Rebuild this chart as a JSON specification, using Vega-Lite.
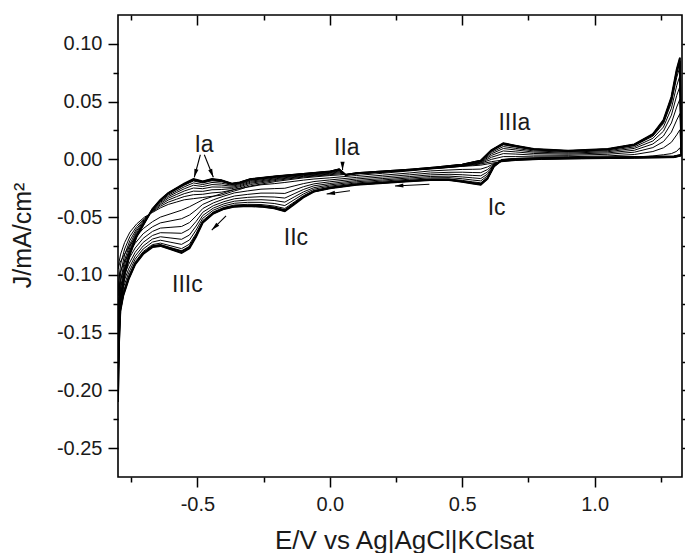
{
"$schema": "https://vega.github.io/schema/vega-lite/v6.json",
"width": 564,
"height": 462,
"autosize": {"type": "none"},
"padding": {"left": 118, "top": 15, "right": 3, "bottom": 76},
"background": "white",
"datasets": {
"cv": [
{"c":1,"o":1,"e":-0.8,"j":-0.095},{"c":1,"o":2,"e":-0.797,"j":-0.09},{"c":1,"o":3,"e":-0.79,"j":-0.082},{"c":1,"o":4,"e":-0.775,"j":-0.072},{"c":1,"o":5,"e":-0.755,"j":-0.063},{"c":1,"o":6,"e":-0.73,"j":-0.056},{"c":1,"o":7,"e":-0.7,"j":-0.05},{"c":1,"o":8,"e":-0.67,"j":-0.046},{"c":1,"o":9,"e":-0.64,"j":-0.042},{"c":1,"o":10,"e":-0.61,"j":-0.039},{"c":1,"o":11,"e":-0.58,"j":-0.037},{"c":1,"o":12,"e":-0.55,"j":-0.035},{"c":1,"o":13,"e":-0.515,"j":-0.034},{"c":1,"o":14,"e":-0.48,"j":-0.033},{"c":1,"o":15,"e":-0.445,"j":-0.032},{"c":1,"o":16,"e":-0.41,"j":-0.031},{"c":1,"o":17,"e":-0.37,"j":-0.028},{"c":1,"o":18,"e":-0.34,"j":-0.026},{"c":1,"o":19,"e":-0.3,"j":-0.023},{"c":1,"o":20,"e":-0.2,"j":-0.019},{"c":1,"o":21,"e":-0.1,"j":-0.016},{"c":1,"o":22,"e":0,"j":-0.014},{"c":1,"o":23,"e":0.035,"j":-0.0135},{"c":1,"o":24,"e":0.06,"j":-0.013},{"c":1,"o":25,"e":0.1,"j":-0.0125},{"c":1,"o":26,"e":0.2,"j":-0.011},{"c":1,"o":27,"e":0.3,"j":-0.0095},{"c":1,"o":28,"e":0.4,"j":-0.008},{"c":1,"o":29,"e":0.5,"j":-0.006},{"c":1,"o":30,"e":0.57,"j":-0.004},{"c":1,"o":31,"e":0.61,"j":-0.002},{"c":1,"o":32,"e":0.655,"j":-0.0005},{"c":1,"o":33,"e":0.7,"j":0},{"c":1,"o":34,"e":0.77,"j":0.0005},{"c":1,"o":35,"e":0.9,"j":0.001},{"c":1,"o":36,"e":1.05,"j":0.0015},{"c":1,"o":37,"e":1.15,"j":0.002},{"c":1,"o":38,"e":1.22,"j":0.003},{"c":1,"o":39,"e":1.26,"j":0.004},{"c":1,"o":40,"e":1.29,"j":0.005},{"c":1,"o":41,"e":1.31,"j":0.007},{"c":1,"o":42,"e":1.322,"j":0.01},{"c":1,"o":43,"e":1.328,"j":0.003},{"c":1,"o":44,"e":1.3,"j":0.0015},{"c":1,"o":45,"e":1.15,"j":0.001},{"c":1,"o":46,"e":0.95,"j":0.0005},{"c":1,"o":47,"e":0.8,"j":0},{"c":1,"o":48,"e":0.7,"j":-0.001},{"c":1,"o":49,"e":0.65,"j":-0.002},{"c":1,"o":50,"e":0.62,"j":-0.003},{"c":1,"o":51,"e":0.595,"j":-0.004},{"c":1,"o":52,"e":0.57,"j":-0.005},{"c":1,"o":53,"e":0.54,"j":-0.0055},{"c":1,"o":54,"e":0.5,"j":-0.006},{"c":1,"o":55,"e":0.45,"j":-0.007},{"c":1,"o":56,"e":0.38,"j":-0.008},{"c":1,"o":57,"e":0.3,"j":-0.01},{"c":1,"o":58,"e":0.2,"j":-0.012},{"c":1,"o":59,"e":0.1,"j":-0.014},{"c":1,"o":60,"e":0,"j":-0.016},{"c":1,"o":61,"e":-0.06,"j":-0.017},{"c":1,"o":62,"e":-0.1,"j":-0.018},{"c":1,"o":63,"e":-0.135,"j":-0.019},{"c":1,"o":64,"e":-0.17,"j":-0.02},{"c":1,"o":65,"e":-0.21,"j":-0.021},{"c":1,"o":66,"e":-0.26,"j":-0.022},{"c":1,"o":67,"e":-0.31,"j":-0.024},{"c":1,"o":68,"e":-0.36,"j":-0.026},{"c":1,"o":69,"e":-0.4,"j":-0.029},{"c":1,"o":70,"e":-0.44,"j":-0.032},{"c":1,"o":71,"e":-0.48,"j":-0.035},{"c":1,"o":72,"e":-0.505,"j":-0.038},{"c":1,"o":73,"e":-0.53,"j":-0.041},{"c":1,"o":74,"e":-0.56,"j":-0.044},{"c":1,"o":75,"e":-0.6,"j":-0.047},{"c":1,"o":76,"e":-0.64,"j":-0.05},{"c":1,"o":77,"e":-0.67,"j":-0.054},{"c":1,"o":78,"e":-0.705,"j":-0.06},{"c":1,"o":79,"e":-0.735,"j":-0.068},{"c":1,"o":80,"e":-0.76,"j":-0.076},{"c":1,"o":81,"e":-0.78,"j":-0.084},{"c":1,"o":82,"e":-0.794,"j":-0.09},{"c":1,"o":83,"e":-0.8,"j":-0.095},
{"c":2,"o":1,"e":-0.8,"j":-0.118},{"c":2,"o":2,"e":-0.797,"j":-0.105},{"c":2,"o":3,"e":-0.79,"j":-0.0906},{"c":2,"o":4,"e":-0.775,"j":-0.0776},{"c":2,"o":5,"e":-0.755,"j":-0.0668},{"c":2,"o":6,"e":-0.73,"j":-0.0582},{"c":2,"o":7,"e":-0.7,"j":-0.051},{"c":2,"o":8,"e":-0.67,"j":-0.0454},{"c":2,"o":9,"e":-0.64,"j":-0.0406},{"c":2,"o":10,"e":-0.61,"j":-0.037},{"c":2,"o":11,"e":-0.58,"j":-0.0346},{"c":2,"o":12,"e":-0.55,"j":-0.0322},{"c":2,"o":13,"e":-0.515,"j":-0.0306},{"c":2,"o":14,"e":-0.48,"j":-0.0302},{"c":2,"o":15,"e":-0.445,"j":-0.029},{"c":2,"o":16,"e":-0.41,"j":-0.0284},{"c":2,"o":17,"e":-0.37,"j":-0.0266},{"c":2,"o":18,"e":-0.34,"j":-0.0248},{"c":2,"o":19,"e":-0.3,"j":-0.0218},{"c":2,"o":20,"e":-0.2,"j":-0.0181},{"c":2,"o":21,"e":-0.1,"j":-0.0153},{"c":2,"o":22,"e":0,"j":-0.0133},{"c":2,"o":23,"e":0.035,"j":-0.0125},{"c":2,"o":24,"e":0.06,"j":-0.0131},{"c":2,"o":25,"e":0.1,"j":-0.0124},{"c":2,"o":26,"e":0.2,"j":-0.0109},{"c":2,"o":27,"e":0.3,"j":-0.0094},{"c":2,"o":28,"e":0.4,"j":-0.0078},{"c":2,"o":29,"e":0.5,"j":-0.0057},{"c":2,"o":30,"e":0.57,"j":-0.0034},{"c":2,"o":31,"e":0.61,"j":0},{"c":2,"o":32,"e":0.655,"j":0.0024},{"c":2,"o":33,"e":0.7,"j":0.0024},{"c":2,"o":34,"e":0.77,"j":0.0022},{"c":2,"o":35,"e":0.9,"j":0.0023},{"c":2,"o":36,"e":1.05,"j":0.003},{"c":2,"o":37,"e":1.15,"j":0.0042},{"c":2,"o":38,"e":1.22,"j":0.0068},{"c":2,"o":39,"e":1.26,"j":0.01},{"c":2,"o":40,"e":1.29,"j":0.0148},{"c":2,"o":41,"e":1.31,"j":0.0212},{"c":2,"o":42,"e":1.322,"j":0.0256},{"c":2,"o":43,"e":1.328,"j":0.0032},{"c":2,"o":44,"e":1.3,"j":0.0017},{"c":2,"o":45,"e":1.15,"j":0.0012},{"c":2,"o":46,"e":0.95,"j":0.0007},{"c":2,"o":47,"e":0.8,"j":0.0002},{"c":2,"o":48,"e":0.7,"j":-0.0007},{"c":2,"o":49,"e":0.65,"j":-0.0017},{"c":2,"o":50,"e":0.62,"j":-0.0036},{"c":2,"o":51,"e":0.595,"j":-0.0066},{"c":2,"o":52,"e":0.57,"j":-0.0084},{"c":2,"o":53,"e":0.54,"j":-0.0086},{"c":2,"o":54,"e":0.5,"j":-0.0087},{"c":2,"o":55,"e":0.45,"j":-0.0092},{"c":2,"o":56,"e":0.38,"j":-0.01},{"c":2,"o":57,"e":0.3,"j":-0.0118},{"c":2,"o":58,"e":0.2,"j":-0.0137},{"c":2,"o":59,"e":0.1,"j":-0.0156},{"c":2,"o":60,"e":0,"j":-0.0178},{"c":2,"o":61,"e":-0.06,"j":-0.0192},{"c":2,"o":62,"e":-0.1,"j":-0.021},{"c":2,"o":63,"e":-0.135,"j":-0.023},{"c":2,"o":64,"e":-0.17,"j":-0.025},{"c":2,"o":65,"e":-0.21,"j":-0.0253},{"c":2,"o":66,"e":-0.26,"j":-0.0258},{"c":2,"o":67,"e":-0.31,"j":-0.0273},{"c":2,"o":68,"e":-0.36,"j":-0.029},{"c":2,"o":69,"e":-0.4,"j":-0.0318},{"c":2,"o":70,"e":-0.44,"j":-0.035},{"c":2,"o":71,"e":-0.48,"j":-0.039},{"c":2,"o":72,"e":-0.505,"j":-0.0438},{"c":2,"o":73,"e":-0.53,"j":-0.0482},{"c":2,"o":74,"e":-0.56,"j":-0.0514},{"c":2,"o":75,"e":-0.6,"j":-0.0532},{"c":2,"o":76,"e":-0.64,"j":-0.055},{"c":2,"o":77,"e":-0.67,"j":-0.0584},{"c":2,"o":78,"e":-0.705,"j":-0.0644},{"c":2,"o":79,"e":-0.735,"j":-0.0726},{"c":2,"o":80,"e":-0.76,"j":-0.0816},{"c":2,"o":81,"e":-0.78,"j":-0.0908},{"c":2,"o":82,"e":-0.794,"j":-0.099},{"c":2,"o":83,"e":-0.8,"j":-0.118},
{"c":3,"o":1,"e":-0.8,"j":-0.1387},{"c":3,"o":2,"e":-0.797,"j":-0.1185},{"c":3,"o":3,"e":-0.79,"j":-0.0983},{"c":3,"o":4,"e":-0.775,"j":-0.0826},{"c":3,"o":5,"e":-0.755,"j":-0.0702},{"c":3,"o":6,"e":-0.73,"j":-0.0602},{"c":3,"o":7,"e":-0.7,"j":-0.0519},{"c":3,"o":8,"e":-0.67,"j":-0.0449},{"c":3,"o":9,"e":-0.64,"j":-0.0393},{"c":3,"o":10,"e":-0.61,"j":-0.0352},{"c":3,"o":11,"e":-0.58,"j":-0.0324},{"c":3,"o":12,"e":-0.55,"j":-0.0297},{"c":3,"o":13,"e":-0.515,"j":-0.0275},{"c":3,"o":14,"e":-0.48,"j":-0.0277},{"c":3,"o":15,"e":-0.445,"j":-0.0263},{"c":3,"o":16,"e":-0.41,"j":-0.0261},{"c":3,"o":17,"e":-0.37,"j":-0.0253},{"c":3,"o":18,"e":-0.34,"j":-0.0237},{"c":3,"o":19,"e":-0.3,"j":-0.0207},{"c":3,"o":20,"e":-0.2,"j":-0.0173},{"c":3,"o":21,"e":-0.1,"j":-0.0147},{"c":3,"o":22,"e":0,"j":-0.0127},{"c":3,"o":23,"e":0.035,"j":-0.0116},{"c":3,"o":24,"e":0.06,"j":-0.0132},{"c":3,"o":25,"e":0.1,"j":-0.0123},{"c":3,"o":26,"e":0.2,"j":-0.0108},{"c":3,"o":27,"e":0.3,"j":-0.0093},{"c":3,"o":28,"e":0.4,"j":-0.0076},{"c":3,"o":29,"e":0.5,"j":-0.0054},{"c":3,"o":30,"e":0.57,"j":-0.0029},{"c":3,"o":31,"e":0.61,"j":0.0018},{"c":3,"o":32,"e":0.655,"j":0.005},{"c":3,"o":33,"e":0.7,"j":0.0046},{"c":3,"o":34,"e":0.77,"j":0.0037},{"c":3,"o":35,"e":0.9,"j":0.0035},{"c":3,"o":36,"e":1.05,"j":0.0044},{"c":3,"o":37,"e":1.15,"j":0.0062},{"c":3,"o":38,"e":1.22,"j":0.0102},{"c":3,"o":39,"e":1.26,"j":0.0154},{"c":3,"o":40,"e":1.29,"j":0.0236},{"c":3,"o":41,"e":1.31,"j":0.034},{"c":3,"o":42,"e":1.322,"j":0.0396},{"c":3,"o":43,"e":1.328,"j":0.0034},{"c":3,"o":44,"e":1.3,"j":0.0019},{"c":3,"o":45,"e":1.15,"j":0.0014},{"c":3,"o":46,"e":0.95,"j":0.0009},{"c":3,"o":47,"e":0.8,"j":0.0004},{"c":3,"o":48,"e":0.7,"j":-0.0004},{"c":3,"o":49,"e":0.65,"j":-0.0014},{"c":3,"o":50,"e":0.62,"j":-0.0041},{"c":3,"o":51,"e":0.595,"j":-0.0089},{"c":3,"o":52,"e":0.57,"j":-0.0115},{"c":3,"o":53,"e":0.54,"j":-0.0114},{"c":3,"o":54,"e":0.5,"j":-0.0111},{"c":3,"o":55,"e":0.45,"j":-0.0112},{"c":3,"o":56,"e":0.38,"j":-0.0118},{"c":3,"o":57,"e":0.3,"j":-0.0134},{"c":3,"o":58,"e":0.2,"j":-0.0152},{"c":3,"o":59,"e":0.1,"j":-0.017},{"c":3,"o":60,"e":0,"j":-0.0194},{"c":3,"o":61,"e":-0.06,"j":-0.0212},{"c":3,"o":62,"e":-0.1,"j":-0.0237},{"c":3,"o":63,"e":-0.135,"j":-0.0266},{"c":3,"o":64,"e":-0.17,"j":-0.0295},{"c":3,"o":65,"e":-0.21,"j":-0.0292},{"c":3,"o":66,"e":-0.26,"j":-0.0292},{"c":3,"o":67,"e":-0.31,"j":-0.0303},{"c":3,"o":68,"e":-0.36,"j":-0.0317},{"c":3,"o":69,"e":-0.4,"j":-0.0343},{"c":3,"o":70,"e":-0.44,"j":-0.0377},{"c":3,"o":71,"e":-0.48,"j":-0.0426},{"c":3,"o":72,"e":-0.505,"j":-0.049},{"c":3,"o":73,"e":-0.53,"j":-0.0547},{"c":3,"o":74,"e":-0.56,"j":-0.0581},{"c":3,"o":75,"e":-0.6,"j":-0.0588},{"c":3,"o":76,"e":-0.64,"j":-0.0595},{"c":3,"o":77,"e":-0.67,"j":-0.0624},{"c":3,"o":78,"e":-0.705,"j":-0.0684},{"c":3,"o":79,"e":-0.735,"j":-0.0767},{"c":3,"o":80,"e":-0.76,"j":-0.0866},{"c":3,"o":81,"e":-0.78,"j":-0.0969},{"c":3,"o":82,"e":-0.794,"j":-0.1071},{"c":3,"o":83,"e":-0.8,"j":-0.1387},
{"c":4,"o":1,"e":-0.8,"j":-0.1571},{"c":4,"o":2,"e":-0.797,"j":-0.1305},{"c":4,"o":3,"e":-0.79,"j":-0.1052},{"c":4,"o":4,"e":-0.775,"j":-0.0871},{"c":4,"o":5,"e":-0.755,"j":-0.0733},{"c":4,"o":6,"e":-0.73,"j":-0.0619},{"c":4,"o":7,"e":-0.7,"j":-0.0527},{"c":4,"o":8,"e":-0.67,"j":-0.0444},{"c":4,"o":9,"e":-0.64,"j":-0.0382},{"c":4,"o":10,"e":-0.61,"j":-0.0336},{"c":4,"o":11,"e":-0.58,"j":-0.0305},{"c":4,"o":12,"e":-0.55,"j":-0.0274},{"c":4,"o":13,"e":-0.515,"j":-0.0248},{"c":4,"o":14,"e":-0.48,"j":-0.0254},{"c":4,"o":15,"e":-0.445,"j":-0.0239},{"c":4,"o":16,"e":-0.41,"j":-0.024},{"c":4,"o":17,"e":-0.37,"j":-0.0242},{"c":4,"o":18,"e":-0.34,"j":-0.0228},{"c":4,"o":19,"e":-0.3,"j":-0.0198},{"c":4,"o":20,"e":-0.2,"j":-0.0166},{"c":4,"o":21,"e":-0.1,"j":-0.0141},{"c":4,"o":22,"e":0,"j":-0.0121},{"c":4,"o":23,"e":0.035,"j":-0.0108},{"c":4,"o":24,"e":0.06,"j":-0.0133},{"c":4,"o":25,"e":0.1,"j":-0.0122},{"c":4,"o":26,"e":0.2,"j":-0.0107},{"c":4,"o":27,"e":0.3,"j":-0.0092},{"c":4,"o":28,"e":0.4,"j":-0.0075},{"c":4,"o":29,"e":0.5,"j":-0.0052},{"c":4,"o":30,"e":0.57,"j":-0.0024},{"c":4,"o":31,"e":0.61,"j":0.0034},{"c":4,"o":32,"e":0.655,"j":0.0073},{"c":4,"o":33,"e":0.7,"j":0.0065},{"c":4,"o":34,"e":0.77,"j":0.0051},{"c":4,"o":35,"e":0.9,"j":0.0045},{"c":4,"o":36,"e":1.05,"j":0.0056},{"c":4,"o":37,"e":1.15,"j":0.0079},{"c":4,"o":38,"e":1.22,"j":0.0133},{"c":4,"o":39,"e":1.26,"j":0.0202},{"c":4,"o":40,"e":1.29,"j":0.0315},{"c":4,"o":41,"e":1.31,"j":0.0453},{"c":4,"o":42,"e":1.322,"j":0.0521},{"c":4,"o":43,"e":1.328,"j":0.0035},{"c":4,"o":44,"e":1.3,"j":0.002},{"c":4,"o":45,"e":1.15,"j":0.0015},{"c":4,"o":46,"e":0.95,"j":0.001},{"c":4,"o":47,"e":0.8,"j":0.0005},{"c":4,"o":48,"e":0.7,"j":-0.0002},{"c":4,"o":49,"e":0.65,"j":-0.0012},{"c":4,"o":50,"e":0.62,"j":-0.0046},{"c":4,"o":51,"e":0.595,"j":-0.011},{"c":4,"o":52,"e":0.57,"j":-0.0142},{"c":4,"o":53,"e":0.54,"j":-0.0139},{"c":4,"o":54,"e":0.5,"j":-0.0133},{"c":4,"o":55,"e":0.45,"j":-0.0129},{"c":4,"o":56,"e":0.38,"j":-0.0134},{"c":4,"o":57,"e":0.3,"j":-0.0149},{"c":4,"o":58,"e":0.2,"j":-0.0166},{"c":4,"o":59,"e":0.1,"j":-0.0183},{"c":4,"o":60,"e":0,"j":-0.0209},{"c":4,"o":61,"e":-0.06,"j":-0.0229},{"c":4,"o":62,"e":-0.1,"j":-0.0261},{"c":4,"o":63,"e":-0.135,"j":-0.0298},{"c":4,"o":64,"e":-0.17,"j":-0.0335},{"c":4,"o":65,"e":-0.21,"j":-0.0326},{"c":4,"o":66,"e":-0.26,"j":-0.0323},{"c":4,"o":67,"e":-0.31,"j":-0.0329},{"c":4,"o":68,"e":-0.36,"j":-0.0341},{"c":4,"o":69,"e":-0.4,"j":-0.0366},{"c":4,"o":70,"e":-0.44,"j":-0.0401},{"c":4,"o":71,"e":-0.48,"j":-0.0458},{"c":4,"o":72,"e":-0.505,"j":-0.0537},{"c":4,"o":73,"e":-0.53,"j":-0.0604},{"c":4,"o":74,"e":-0.56,"j":-0.064},{"c":4,"o":75,"e":-0.6,"j":-0.0637},{"c":4,"o":76,"e":-0.64,"j":-0.0635},{"c":4,"o":77,"e":-0.67,"j":-0.0659},{"c":4,"o":78,"e":-0.705,"j":-0.0719},{"c":4,"o":79,"e":-0.735,"j":-0.0804},{"c":4,"o":80,"e":-0.76,"j":-0.0911},{"c":4,"o":81,"e":-0.78,"j":-0.1024},{"c":4,"o":82,"e":-0.794,"j":-0.1143},{"c":4,"o":83,"e":-0.8,"j":-0.1571},
{"c":5,"o":1,"e":-0.8,"j":-0.1732},{"c":5,"o":2,"e":-0.797,"j":-0.141},{"c":5,"o":3,"e":-0.79,"j":-0.1112},{"c":5,"o":4,"e":-0.775,"j":-0.091},{"c":5,"o":5,"e":-0.755,"j":-0.0759},{"c":5,"o":6,"e":-0.73,"j":-0.0635},{"c":5,"o":7,"e":-0.7,"j":-0.0534},{"c":5,"o":8,"e":-0.67,"j":-0.044},{"c":5,"o":9,"e":-0.64,"j":-0.0372},{"c":5,"o":10,"e":-0.61,"j":-0.0322},{"c":5,"o":11,"e":-0.58,"j":-0.0288},{"c":5,"o":12,"e":-0.55,"j":-0.0255},{"c":5,"o":13,"e":-0.515,"j":-0.0224},{"c":5,"o":14,"e":-0.48,"j":-0.0235},{"c":5,"o":15,"e":-0.445,"j":-0.0218},{"c":5,"o":16,"e":-0.41,"j":-0.0222},{"c":5,"o":17,"e":-0.37,"j":-0.0232},{"c":5,"o":18,"e":-0.34,"j":-0.0219},{"c":5,"o":19,"e":-0.3,"j":-0.0189},{"c":5,"o":20,"e":-0.2,"j":-0.0159},{"c":5,"o":21,"e":-0.1,"j":-0.0136},{"c":5,"o":22,"e":0,"j":-0.0116},{"c":5,"o":23,"e":0.035,"j":-0.0101},{"c":5,"o":24,"e":0.06,"j":-0.0133},{"c":5,"o":25,"e":0.1,"j":-0.0122},{"c":5,"o":26,"e":0.2,"j":-0.0107},{"c":5,"o":27,"e":0.3,"j":-0.0092},{"c":5,"o":28,"e":0.4,"j":-0.0073},{"c":5,"o":29,"e":0.5,"j":-0.005},{"c":5,"o":30,"e":0.57,"j":-0.002},{"c":5,"o":31,"e":0.61,"j":0.0048},{"c":5,"o":32,"e":0.655,"j":0.0094},{"c":5,"o":33,"e":0.7,"j":0.0082},{"c":5,"o":34,"e":0.77,"j":0.0063},{"c":5,"o":35,"e":0.9,"j":0.0054},{"c":5,"o":36,"e":1.05,"j":0.0066},{"c":5,"o":37,"e":1.15,"j":0.0095},{"c":5,"o":38,"e":1.22,"j":0.0159},{"c":5,"o":39,"e":1.26,"j":0.0244},{"c":5,"o":40,"e":1.29,"j":0.0383},{"c":5,"o":41,"e":1.31,"j":0.0553},{"c":5,"o":42,"e":1.322,"j":0.063},{"c":5,"o":43,"e":1.328,"j":0.0037},{"c":5,"o":44,"e":1.3,"j":0.0022},{"c":5,"o":45,"e":1.15,"j":0.0017},{"c":5,"o":46,"e":0.95,"j":0.0012},{"c":5,"o":47,"e":0.8,"j":0.0007},{"c":5,"o":48,"e":0.7,"j":0},{"c":5,"o":49,"e":0.65,"j":-0.001},{"c":5,"o":50,"e":0.62,"j":-0.005},{"c":5,"o":51,"e":0.595,"j":-0.0128},{"c":5,"o":52,"e":0.57,"j":-0.0166},{"c":5,"o":53,"e":0.54,"j":-0.016},{"c":5,"o":54,"e":0.5,"j":-0.0152},{"c":5,"o":55,"e":0.45,"j":-0.0145},{"c":5,"o":56,"e":0.38,"j":-0.0148},{"c":5,"o":57,"e":0.3,"j":-0.0161},{"c":5,"o":58,"e":0.2,"j":-0.0178},{"c":5,"o":59,"e":0.1,"j":-0.0194},{"c":5,"o":60,"e":0,"j":-0.0221},{"c":5,"o":61,"e":-0.06,"j":-0.0245},{"c":5,"o":62,"e":-0.1,"j":-0.0282},{"c":5,"o":63,"e":-0.135,"j":-0.0326},{"c":5,"o":64,"e":-0.17,"j":-0.037},{"c":5,"o":65,"e":-0.21,"j":-0.0356},{"c":5,"o":66,"e":-0.26,"j":-0.0349},{"c":5,"o":67,"e":-0.31,"j":-0.0352},{"c":5,"o":68,"e":-0.36,"j":-0.0362},{"c":5,"o":69,"e":-0.4,"j":-0.0385},{"c":5,"o":70,"e":-0.44,"j":-0.0422},{"c":5,"o":71,"e":-0.48,"j":-0.0486},{"c":5,"o":72,"e":-0.505,"j":-0.0577},{"c":5,"o":73,"e":-0.53,"j":-0.0655},{"c":5,"o":74,"e":-0.56,"j":-0.0692},{"c":5,"o":75,"e":-0.6,"j":-0.0681},{"c":5,"o":76,"e":-0.64,"j":-0.067},{"c":5,"o":77,"e":-0.67,"j":-0.069},{"c":5,"o":78,"e":-0.705,"j":-0.075},{"c":5,"o":79,"e":-0.735,"j":-0.0836},{"c":5,"o":80,"e":-0.76,"j":-0.095},{"c":5,"o":81,"e":-0.78,"j":-0.1071},{"c":5,"o":82,"e":-0.794,"j":-0.1206},{"c":5,"o":83,"e":-0.8,"j":-0.1732},
{"c":6,"o":1,"e":-0.8,"j":-0.187},{"c":6,"o":2,"e":-0.797,"j":-0.15},{"c":6,"o":3,"e":-0.79,"j":-0.1164},{"c":6,"o":4,"e":-0.775,"j":-0.0944},{"c":6,"o":5,"e":-0.755,"j":-0.0782},{"c":6,"o":6,"e":-0.73,"j":-0.0648},{"c":6,"o":7,"e":-0.7,"j":-0.054},{"c":6,"o":8,"e":-0.67,"j":-0.0436},{"c":6,"o":9,"e":-0.64,"j":-0.0364},{"c":6,"o":10,"e":-0.61,"j":-0.031},{"c":6,"o":11,"e":-0.58,"j":-0.0274},{"c":6,"o":12,"e":-0.55,"j":-0.0238},{"c":6,"o":13,"e":-0.515,"j":-0.0204},{"c":6,"o":14,"e":-0.48,"j":-0.0218},{"c":6,"o":15,"e":-0.445,"j":-0.02},{"c":6,"o":16,"e":-0.41,"j":-0.0206},{"c":6,"o":17,"e":-0.37,"j":-0.0224},{"c":6,"o":18,"e":-0.34,"j":-0.0212},{"c":6,"o":19,"e":-0.3,"j":-0.0182},{"c":6,"o":20,"e":-0.2,"j":-0.0154},{"c":6,"o":21,"e":-0.1,"j":-0.0132},{"c":6,"o":22,"e":0,"j":-0.0112},{"c":6,"o":23,"e":0.035,"j":-0.0095},{"c":6,"o":24,"e":0.06,"j":-0.0134},{"c":6,"o":25,"e":0.1,"j":-0.0121},{"c":6,"o":26,"e":0.2,"j":-0.0106},{"c":6,"o":27,"e":0.3,"j":-0.0091},{"c":6,"o":28,"e":0.4,"j":-0.0072},{"c":6,"o":29,"e":0.5,"j":-0.0048},{"c":6,"o":30,"e":0.57,"j":-0.0016},{"c":6,"o":31,"e":0.61,"j":0.006},{"c":6,"o":32,"e":0.655,"j":0.0111},{"c":6,"o":33,"e":0.7,"j":0.0096},{"c":6,"o":34,"e":0.77,"j":0.0073},{"c":6,"o":35,"e":0.9,"j":0.0062},{"c":6,"o":36,"e":1.05,"j":0.0075},{"c":6,"o":37,"e":1.15,"j":0.0108},{"c":6,"o":38,"e":1.22,"j":0.0182},{"c":6,"o":39,"e":1.26,"j":0.028},{"c":6,"o":40,"e":1.29,"j":0.0442},{"c":6,"o":41,"e":1.31,"j":0.0638},{"c":6,"o":42,"e":1.322,"j":0.0724},{"c":6,"o":43,"e":1.328,"j":0.0038},{"c":6,"o":44,"e":1.3,"j":0.0023},{"c":6,"o":45,"e":1.15,"j":0.0018},{"c":6,"o":46,"e":0.95,"j":0.0013},{"c":6,"o":47,"e":0.8,"j":0.0008},{"c":6,"o":48,"e":0.7,"j":0.0002},{"c":6,"o":49,"e":0.65,"j":-0.0008},{"c":6,"o":50,"e":0.62,"j":-0.0054},{"c":6,"o":51,"e":0.595,"j":-0.0144},{"c":6,"o":52,"e":0.57,"j":-0.0186},{"c":6,"o":53,"e":0.54,"j":-0.0179},{"c":6,"o":54,"e":0.5,"j":-0.0168},{"c":6,"o":55,"e":0.45,"j":-0.0158},{"c":6,"o":56,"e":0.38,"j":-0.016},{"c":6,"o":57,"e":0.3,"j":-0.0172},{"c":6,"o":58,"e":0.2,"j":-0.0188},{"c":6,"o":59,"e":0.1,"j":-0.0204},{"c":6,"o":60,"e":0,"j":-0.0232},{"c":6,"o":61,"e":-0.06,"j":-0.0258},{"c":6,"o":62,"e":-0.1,"j":-0.03},{"c":6,"o":63,"e":-0.135,"j":-0.035},{"c":6,"o":64,"e":-0.17,"j":-0.04},{"c":6,"o":65,"e":-0.21,"j":-0.0382},{"c":6,"o":66,"e":-0.26,"j":-0.0372},{"c":6,"o":67,"e":-0.31,"j":-0.0372},{"c":6,"o":68,"e":-0.36,"j":-0.038},{"c":6,"o":69,"e":-0.4,"j":-0.0402},{"c":6,"o":70,"e":-0.44,"j":-0.044},{"c":6,"o":71,"e":-0.48,"j":-0.051},{"c":6,"o":72,"e":-0.505,"j":-0.0612},{"c":6,"o":73,"e":-0.53,"j":-0.0698},{"c":6,"o":74,"e":-0.56,"j":-0.0736},{"c":6,"o":75,"e":-0.6,"j":-0.0718},{"c":6,"o":76,"e":-0.64,"j":-0.07},{"c":6,"o":77,"e":-0.67,"j":-0.0716},{"c":6,"o":78,"e":-0.705,"j":-0.0776},{"c":6,"o":79,"e":-0.735,"j":-0.0864},{"c":6,"o":80,"e":-0.76,"j":-0.0984},{"c":6,"o":81,"e":-0.78,"j":-0.1112},{"c":6,"o":82,"e":-0.794,"j":-0.126},{"c":6,"o":83,"e":-0.8,"j":-0.187},
{"c":7,"o":1,"e":-0.8,"j":-0.1985},{"c":7,"o":2,"e":-0.797,"j":-0.1575},{"c":7,"o":3,"e":-0.79,"j":-0.1207},{"c":7,"o":4,"e":-0.775,"j":-0.0972},{"c":7,"o":5,"e":-0.755,"j":-0.0801},{"c":7,"o":6,"e":-0.73,"j":-0.0659},{"c":7,"o":7,"e":-0.7,"j":-0.0545},{"c":7,"o":8,"e":-0.67,"j":-0.0433},{"c":7,"o":9,"e":-0.64,"j":-0.0357},{"c":7,"o":10,"e":-0.61,"j":-0.03},{"c":7,"o":11,"e":-0.58,"j":-0.0262},{"c":7,"o":12,"e":-0.55,"j":-0.0224},{"c":7,"o":13,"e":-0.515,"j":-0.0187},{"c":7,"o":14,"e":-0.48,"j":-0.0204},{"c":7,"o":15,"e":-0.445,"j":-0.0185},{"c":7,"o":16,"e":-0.41,"j":-0.0193},{"c":7,"o":17,"e":-0.37,"j":-0.0217},{"c":7,"o":18,"e":-0.34,"j":-0.0206},{"c":7,"o":19,"e":-0.3,"j":-0.0176},{"c":7,"o":20,"e":-0.2,"j":-0.0149},{"c":7,"o":21,"e":-0.1,"j":-0.0128},{"c":7,"o":22,"e":0,"j":-0.0108},{"c":7,"o":23,"e":0.035,"j":-0.009},{"c":7,"o":24,"e":0.06,"j":-0.0135},{"c":7,"o":25,"e":0.1,"j":-0.012},{"c":7,"o":26,"e":0.2,"j":-0.0106},{"c":7,"o":27,"e":0.3,"j":-0.0091},{"c":7,"o":28,"e":0.4,"j":-0.0071},{"c":7,"o":29,"e":0.5,"j":-0.0046},{"c":7,"o":30,"e":0.57,"j":-0.0013},{"c":7,"o":31,"e":0.61,"j":0.007},{"c":7,"o":32,"e":0.655,"j":0.0126},{"c":7,"o":33,"e":0.7,"j":0.0108},{"c":7,"o":34,"e":0.77,"j":0.0082},{"c":7,"o":35,"e":0.9,"j":0.0069},{"c":7,"o":36,"e":1.05,"j":0.0083},{"c":7,"o":37,"e":1.15,"j":0.0119},{"c":7,"o":38,"e":1.22,"j":0.0201},{"c":7,"o":39,"e":1.26,"j":0.031},{"c":7,"o":40,"e":1.29,"j":0.0491},{"c":7,"o":41,"e":1.31,"j":0.0709},{"c":7,"o":42,"e":1.322,"j":0.0802},{"c":7,"o":43,"e":1.328,"j":0.0039},{"c":7,"o":44,"e":1.3,"j":0.0024},{"c":7,"o":45,"e":1.15,"j":0.0019},{"c":7,"o":46,"e":0.95,"j":0.0014},{"c":7,"o":47,"e":0.8,"j":0.0009},{"c":7,"o":48,"e":0.7,"j":0.0004},{"c":7,"o":49,"e":0.65,"j":-0.0006},{"c":7,"o":50,"e":0.62,"j":-0.0057},{"c":7,"o":51,"e":0.595,"j":-0.0157},{"c":7,"o":52,"e":0.57,"j":-0.0203},{"c":7,"o":53,"e":0.54,"j":-0.0195},{"c":7,"o":54,"e":0.5,"j":-0.0182},{"c":7,"o":55,"e":0.45,"j":-0.0169},{"c":7,"o":56,"e":0.38,"j":-0.017},{"c":7,"o":57,"e":0.3,"j":-0.0181},{"c":7,"o":58,"e":0.2,"j":-0.0197},{"c":7,"o":59,"e":0.1,"j":-0.0212},{"c":7,"o":60,"e":0,"j":-0.0241},{"c":7,"o":61,"e":-0.06,"j":-0.0269},{"c":7,"o":62,"e":-0.1,"j":-0.0315},{"c":7,"o":63,"e":-0.135,"j":-0.037},{"c":7,"o":64,"e":-0.17,"j":-0.0425},{"c":7,"o":65,"e":-0.21,"j":-0.0404},{"c":7,"o":66,"e":-0.26,"j":-0.0391},{"c":7,"o":67,"e":-0.31,"j":-0.0389},{"c":7,"o":68,"e":-0.36,"j":-0.0395},{"c":7,"o":69,"e":-0.4,"j":-0.0416},{"c":7,"o":70,"e":-0.44,"j":-0.0455},{"c":7,"o":71,"e":-0.48,"j":-0.053},{"c":7,"o":72,"e":-0.505,"j":-0.0641},{"c":7,"o":73,"e":-0.53,"j":-0.0734},{"c":7,"o":74,"e":-0.56,"j":-0.0773},{"c":7,"o":75,"e":-0.6,"j":-0.0749},{"c":7,"o":76,"e":-0.64,"j":-0.0725},{"c":7,"o":77,"e":-0.67,"j":-0.0738},{"c":7,"o":78,"e":-0.705,"j":-0.0798},{"c":7,"o":79,"e":-0.735,"j":-0.0887},{"c":7,"o":80,"e":-0.76,"j":-0.1012},{"c":7,"o":81,"e":-0.78,"j":-0.1146},{"c":7,"o":82,"e":-0.794,"j":-0.1305},{"c":7,"o":83,"e":-0.8,"j":-0.1985},
{"c":8,"o":1,"e":-0.8,"j":-0.2054},{"c":8,"o":2,"e":-0.797,"j":-0.162},{"c":8,"o":3,"e":-0.79,"j":-0.1233},{"c":8,"o":4,"e":-0.775,"j":-0.0989},{"c":8,"o":5,"e":-0.755,"j":-0.0812},{"c":8,"o":6,"e":-0.73,"j":-0.0666},{"c":8,"o":7,"e":-0.7,"j":-0.0548},{"c":8,"o":8,"e":-0.67,"j":-0.0431},{"c":8,"o":9,"e":-0.64,"j":-0.0353},{"c":8,"o":10,"e":-0.61,"j":-0.0294},{"c":8,"o":11,"e":-0.58,"j":-0.0255},{"c":8,"o":12,"e":-0.55,"j":-0.0216},{"c":8,"o":13,"e":-0.515,"j":-0.0177},{"c":8,"o":14,"e":-0.48,"j":-0.0196},{"c":8,"o":15,"e":-0.445,"j":-0.0176},{"c":8,"o":16,"e":-0.41,"j":-0.0185},{"c":8,"o":17,"e":-0.37,"j":-0.0213},{"c":8,"o":18,"e":-0.34,"j":-0.0202},{"c":8,"o":19,"e":-0.3,"j":-0.0172},{"c":8,"o":20,"e":-0.2,"j":-0.0147},{"c":8,"o":21,"e":-0.1,"j":-0.0126},{"c":8,"o":22,"e":0,"j":-0.0106},{"c":8,"o":23,"e":0.035,"j":-0.0087},{"c":8,"o":24,"e":0.06,"j":-0.0135},{"c":8,"o":25,"e":0.1,"j":-0.012},{"c":8,"o":26,"e":0.2,"j":-0.0105},{"c":8,"o":27,"e":0.3,"j":-0.009},{"c":8,"o":28,"e":0.4,"j":-0.007},{"c":8,"o":29,"e":0.5,"j":-0.0046},{"c":8,"o":30,"e":0.57,"j":-0.0011},{"c":8,"o":31,"e":0.61,"j":0.0076},{"c":8,"o":32,"e":0.655,"j":0.0134},{"c":8,"o":33,"e":0.7,"j":0.0115},{"c":8,"o":34,"e":0.77,"j":0.0087},{"c":8,"o":35,"e":0.9,"j":0.0072},{"c":8,"o":36,"e":1.05,"j":0.0087},{"c":8,"o":37,"e":1.15,"j":0.0126},{"c":8,"o":38,"e":1.22,"j":0.0212},{"c":8,"o":39,"e":1.26,"j":0.0328},{"c":8,"o":40,"e":1.29,"j":0.052},{"c":8,"o":41,"e":1.31,"j":0.0752},{"c":8,"o":42,"e":1.322,"j":0.0849},{"c":8,"o":43,"e":1.328,"j":0.004},{"c":8,"o":44,"e":1.3,"j":0.0025},{"c":8,"o":45,"e":1.15,"j":0.002},{"c":8,"o":46,"e":0.95,"j":0.0015},{"c":8,"o":47,"e":0.8,"j":0.001},{"c":8,"o":48,"e":0.7,"j":0.0004},{"c":8,"o":49,"e":0.65,"j":-0.0006},{"c":8,"o":50,"e":0.62,"j":-0.0059},{"c":8,"o":51,"e":0.595,"j":-0.0165},{"c":8,"o":52,"e":0.57,"j":-0.0213},{"c":8,"o":53,"e":0.54,"j":-0.0204},{"c":8,"o":54,"e":0.5,"j":-0.019},{"c":8,"o":55,"e":0.45,"j":-0.0176},{"c":8,"o":56,"e":0.38,"j":-0.0176},{"c":8,"o":57,"e":0.3,"j":-0.0186},{"c":8,"o":58,"e":0.2,"j":-0.0202},{"c":8,"o":59,"e":0.1,"j":-0.0217},{"c":8,"o":60,"e":0,"j":-0.0246},{"c":8,"o":61,"e":-0.06,"j":-0.0276},{"c":8,"o":62,"e":-0.1,"j":-0.0324},{"c":8,"o":63,"e":-0.135,"j":-0.0382},{"c":8,"o":64,"e":-0.17,"j":-0.044},{"c":8,"o":65,"e":-0.21,"j":-0.0416},{"c":8,"o":66,"e":-0.26,"j":-0.0402},{"c":8,"o":67,"e":-0.31,"j":-0.0398},{"c":8,"o":68,"e":-0.36,"j":-0.0404},{"c":8,"o":69,"e":-0.4,"j":-0.0424},{"c":8,"o":70,"e":-0.44,"j":-0.0464},{"c":8,"o":71,"e":-0.48,"j":-0.0542},{"c":8,"o":72,"e":-0.505,"j":-0.0658},{"c":8,"o":73,"e":-0.53,"j":-0.0756},{"c":8,"o":74,"e":-0.56,"j":-0.0795},{"c":8,"o":75,"e":-0.6,"j":-0.0768},{"c":8,"o":76,"e":-0.64,"j":-0.074},{"c":8,"o":77,"e":-0.67,"j":-0.0751},{"c":8,"o":78,"e":-0.705,"j":-0.0811},{"c":8,"o":79,"e":-0.735,"j":-0.0901},{"c":8,"o":80,"e":-0.76,"j":-0.1029},{"c":8,"o":81,"e":-0.78,"j":-0.1166},{"c":8,"o":82,"e":-0.794,"j":-0.1332},{"c":8,"o":83,"e":-0.8,"j":-0.2054},
{"c":9,"o":1,"e":-0.8,"j":-0.21},{"c":9,"o":2,"e":-0.797,"j":-0.165},{"c":9,"o":3,"e":-0.79,"j":-0.125},{"c":9,"o":4,"e":-0.775,"j":-0.1},{"c":9,"o":5,"e":-0.755,"j":-0.082},{"c":9,"o":6,"e":-0.73,"j":-0.067},{"c":9,"o":7,"e":-0.7,"j":-0.055},{"c":9,"o":8,"e":-0.67,"j":-0.043},{"c":9,"o":9,"e":-0.64,"j":-0.035},{"c":9,"o":10,"e":-0.61,"j":-0.029},{"c":9,"o":11,"e":-0.58,"j":-0.025},{"c":9,"o":12,"e":-0.55,"j":-0.021},{"c":9,"o":13,"e":-0.515,"j":-0.017},{"c":9,"o":14,"e":-0.48,"j":-0.019},{"c":9,"o":15,"e":-0.445,"j":-0.017},{"c":9,"o":16,"e":-0.41,"j":-0.018},{"c":9,"o":17,"e":-0.37,"j":-0.021},{"c":9,"o":18,"e":-0.34,"j":-0.02},{"c":9,"o":19,"e":-0.3,"j":-0.017},{"c":9,"o":20,"e":-0.2,"j":-0.0145},{"c":9,"o":21,"e":-0.1,"j":-0.0125},{"c":9,"o":22,"e":0,"j":-0.0105},{"c":9,"o":23,"e":0.035,"j":-0.0085},{"c":9,"o":24,"e":0.06,"j":-0.0135},{"c":9,"o":25,"e":0.1,"j":-0.012},{"c":9,"o":26,"e":0.2,"j":-0.0105},{"c":9,"o":27,"e":0.3,"j":-0.009},{"c":9,"o":28,"e":0.4,"j":-0.007},{"c":9,"o":29,"e":0.5,"j":-0.0045},{"c":9,"o":30,"e":0.57,"j":-0.001},{"c":9,"o":31,"e":0.61,"j":0.008},{"c":9,"o":32,"e":0.655,"j":0.014},{"c":9,"o":33,"e":0.7,"j":0.012},{"c":9,"o":34,"e":0.77,"j":0.009},{"c":9,"o":35,"e":0.9,"j":0.0075},{"c":9,"o":36,"e":1.05,"j":0.009},{"c":9,"o":37,"e":1.15,"j":0.013},{"c":9,"o":38,"e":1.22,"j":0.022},{"c":9,"o":39,"e":1.26,"j":0.034},{"c":9,"o":40,"e":1.29,"j":0.054},{"c":9,"o":41,"e":1.31,"j":0.078},{"c":9,"o":42,"e":1.322,"j":0.088},{"c":9,"o":43,"e":1.328,"j":0.004},{"c":9,"o":44,"e":1.3,"j":0.0025},{"c":9,"o":45,"e":1.15,"j":0.002},{"c":9,"o":46,"e":0.95,"j":0.0015},{"c":9,"o":47,"e":0.8,"j":0.001},{"c":9,"o":48,"e":0.7,"j":0.0005},{"c":9,"o":49,"e":0.65,"j":-0.0005},{"c":9,"o":50,"e":0.62,"j":-0.006},{"c":9,"o":51,"e":0.595,"j":-0.017},{"c":9,"o":52,"e":0.57,"j":-0.022},{"c":9,"o":53,"e":0.54,"j":-0.021},{"c":9,"o":54,"e":0.5,"j":-0.0195},{"c":9,"o":55,"e":0.45,"j":-0.018},{"c":9,"o":56,"e":0.38,"j":-0.018},{"c":9,"o":57,"e":0.3,"j":-0.019},{"c":9,"o":58,"e":0.2,"j":-0.0205},{"c":9,"o":59,"e":0.1,"j":-0.022},{"c":9,"o":60,"e":0,"j":-0.025},{"c":9,"o":61,"e":-0.06,"j":-0.028},{"c":9,"o":62,"e":-0.1,"j":-0.033},{"c":9,"o":63,"e":-0.135,"j":-0.039},{"c":9,"o":64,"e":-0.17,"j":-0.045},{"c":9,"o":65,"e":-0.21,"j":-0.0425},{"c":9,"o":66,"e":-0.26,"j":-0.041},{"c":9,"o":67,"e":-0.31,"j":-0.0405},{"c":9,"o":68,"e":-0.36,"j":-0.041},{"c":9,"o":69,"e":-0.4,"j":-0.043},{"c":9,"o":70,"e":-0.44,"j":-0.047},{"c":9,"o":71,"e":-0.48,"j":-0.055},{"c":9,"o":72,"e":-0.505,"j":-0.067},{"c":9,"o":73,"e":-0.53,"j":-0.077},{"c":9,"o":74,"e":-0.56,"j":-0.081},{"c":9,"o":75,"e":-0.6,"j":-0.078},{"c":9,"o":76,"e":-0.64,"j":-0.075},{"c":9,"o":77,"e":-0.67,"j":-0.076},{"c":9,"o":78,"e":-0.705,"j":-0.082},{"c":9,"o":79,"e":-0.735,"j":-0.091},{"c":9,"o":80,"e":-0.76,"j":-0.104},{"c":9,"o":81,"e":-0.78,"j":-0.118},{"c":9,"o":82,"e":-0.794,"j":-0.135},{"c":9,"o":83,"e":-0.8,"j":-0.21}
],
"lab": [
{"t":"Ia","e":-0.475,"j":0.0124},
{"t":"IIa","e":0.064,"j":0.0096},
{"t":"IIIa","e":0.697,"j":0.0312},
{"t":"Ic","e":0.63,"j":-0.0424},
{"t":"IIc","e":-0.128,"j":-0.0683},
{"t":"IIIc","e":-0.538,"j":-0.1088}
],
"arr": [
{"e":-0.489,"j":0.004,"e2":-0.512,"j2":-0.0155,"a":195},
{"e":-0.474,"j":0.004,"e2":-0.44,"j2":-0.0155,"a":158},
{"e":0.048,"j":-0.003,"e2":0.048,"j2":-0.0092,"a":180},
{"e":0.076,"j":-0.0271,"e2":-0.012,"j2":-0.03,"a":262},
{"e":0.376,"j":-0.0216,"e2":0.246,"j2":-0.023,"a":267},
{"e":-0.392,"j":-0.049,"e2":-0.446,"j2":-0.0612,"a":226}
]
},
"layer": [
{
"data": {"name": "cv"},
"mark": {"type": "line", "color": "black", "strokeWidth": 1, "clip": true},
"encoding": {
"x": {"field": "e", "type": "quantitative", "scale": {"domain": [-0.8, 1.33], "nice": false, "zero": false},
"axis": {"orient": "bottom", "values": [-0.5, 0, 0.5, 1], "format": ".1f", "labelExpr": "replace(datum.label, '\u2212', '-')", "tickSize": 10, "labelPadding": 7, "title": "E/V vs Ag|AgCl|KClsat", "titleFontSize": 26, "titleX": 286, "titleY": 71, "titleBaseline": "alphabetic", "titleAlign": "center"}},
"y": {"field": "j", "type": "quantitative", "scale": {"domain": [-0.275, 0.125], "nice": false, "zero": false},
"axis": {"orient": "left", "values": [-0.25, -0.2, -0.15, -0.1, -0.05, 0, 0.05, 0.1], "format": ".2f", "labelExpr": "replace(datum.label, '\u2212', '-')", "tickSize": 10, "labelPadding": 6, "title": "J/mA/cm²", "titleFontSize": 25, "titleAngle": -90, "titleX": -88, "titleY": 220, "titleBaseline": "alphabetic", "titleAlign": "center"}},
"detail": {"field": "c", "type": "nominal"},
"order": {"field": "o", "type": "quantitative"}
}
},
{
"data": {"name": "cv"},
"transform": [{"filter": "datum.c >= 8"}],
"mark": {"type": "line", "color": "black", "strokeWidth": 1.8, "clip": true},
"encoding": {
"x": {"field": "e", "type": "quantitative", "scale": {"domain": [-0.8, 1.33], "nice": false, "zero": false}, "axis": null},
"y": {"field": "j", "type": "quantitative", "scale": {"domain": [-0.275, 0.125], "nice": false, "zero": false}, "axis": null},
"detail": {"field": "c", "type": "nominal"},
"order": {"field": "o", "type": "quantitative"}
}
},
{
"data": {"name": "lab"},
"mark": {"type": "text", "font": "Liberation Sans", "fontSize": 23, "color": "#1a1a1a", "align": "center", "baseline": "middle"},
"encoding": {
"x": {"field": "e", "type": "quantitative", "scale": {"domain": [-0.8, 1.33], "nice": false, "zero": false},
"axis": {"orient": "bottom", "values": [-0.75, -0.25, 0.25, 0.75, 1.25], "labels": false, "tickSize": 5, "title": null}},
"y": {"field": "j", "type": "quantitative", "scale": {"domain": [-0.275, 0.125], "nice": false, "zero": false},
"axis": {"orient": "left", "values": [-0.225, -0.175, -0.125, -0.075, -0.025, 0.025, 0.075], "labels": false, "tickSize": 5, "title": null}},
"text": {"field": "t", "type": "nominal"}
}
},
{
"data": {"name": "arr"},
"mark": {"type": "rule", "color": "black", "strokeWidth": 1.1},
"encoding": {
"x": {"field": "e", "type": "quantitative", "scale": {"domain": [-0.8, 1.33], "nice": false, "zero": false},
"axis": {"orient": "top", "values": [-0.5, 0, 0.5, 1], "labels": false, "tickSize": -10, "title": null}},
"y": {"field": "j", "type": "quantitative", "scale": {"domain": [-0.275, 0.125], "nice": false, "zero": false},
"axis": {"orient": "right", "values": [-0.25, -0.2, -0.15, -0.1, -0.05, 0, 0.05, 0.1], "labels": false, "tickSize": 4, "title": null}},
"x2": {"field": "e2"},
"y2": {"field": "j2"}
}
},
{
"data": {"name": "arr"},
"mark": {"type": "point", "filled": true, "color": "black", "opacity": 1, "shape": "M0,0L0.5,2L-0.5,2Z", "size": 70},
"encoding": {
"x": {"field": "e2", "type": "quantitative", "scale": {"domain": [-0.8, 1.33], "nice": false, "zero": false},
"axis": {"orient": "top", "values": [-0.75, -0.25, 0.25, 0.75, 1.25], "labels": false, "tickSize": -5, "title": null}},
"y": {"field": "j2", "type": "quantitative", "scale": {"domain": [-0.275, 0.125], "nice": false, "zero": false},
"axis": {"orient": "right", "values": [-0.225, -0.175, -0.125, -0.075, -0.025, 0.025, 0.075], "labels": false, "tickSize": 3, "title": null}},
"angle": {"field": "a", "type": "quantitative", "scale": null}
}
}
],
"resolve": {"axis": {"x": "independent", "y": "independent"}},
"config": {
"view": {"stroke": "black", "strokeWidth": 1.6},
"axis": {"domain": false, "grid": false, "ticks": true, "tickColor": "black", "tickWidth": 1.5, "labelFont": "Liberation Sans", "labelFontSize": 20, "labelColor": "#1a1a1a", "titleFont": "Liberation Sans", "titleFontSize": 25, "titleFontWeight": "normal", "titleColor": "#1a1a1a"}
}
}
